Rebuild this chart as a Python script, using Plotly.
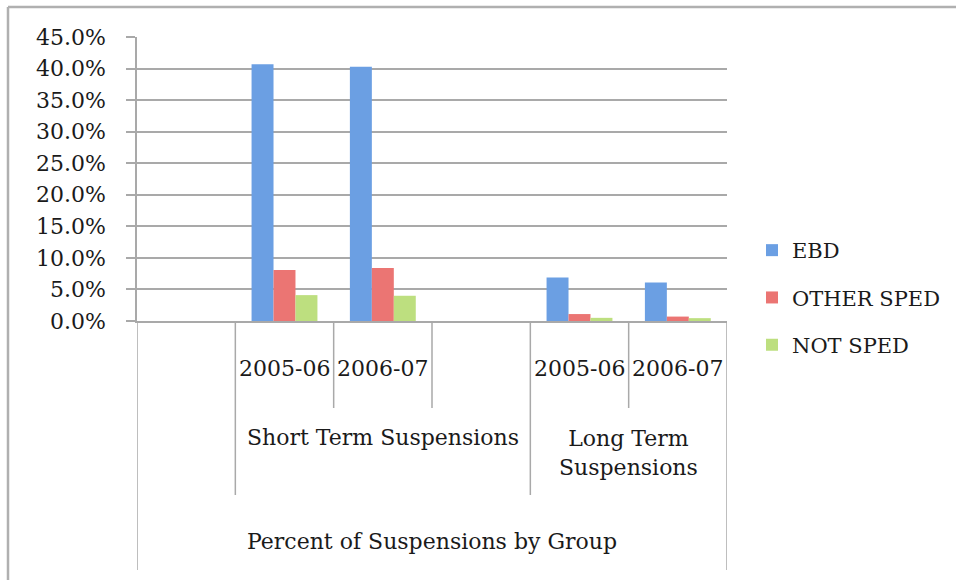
import plotly.graph_objects as go

# Category slots along the x axis (outer -> middle -> inner level)
outer_label = "Percent of Suspensions by Group"
slot_groups = ["", "Short Term Suspensions", "Short Term Suspensions", "Short Term Suspensions",
               "Long Term Suspensions", "Long Term Suspensions"]
slot_periods = ["", "2005-06", "2006-07", "", "2005-06", "2006-07"]

# Share of suspensions by student group (fractions)
series_names = ["EBD", "OTHER SPED", "NOT SPED"]
ebd = [None, 0.407, 0.403, None, 0.069, 0.061]
other_sped = [None, 0.081, 0.084, None, 0.011, 0.007]
not_sped = [None, 0.041, 0.040, None, 0.005, 0.0045]

y_ticks = [0.0, 0.05, 0.10, 0.15, 0.20, 0.25, 0.30, 0.35, 0.40, 0.45]

colors = ["#6b9fe3", "#eb7573", "#bddf7f"]
FONT = "DejaVu Serif"
TXT = "#1a1a1a"
GRID = "#a9a9a9"

W, H = 956, 580
def px(v):  # horizontal pixel -> paper
    return v / W
def py(v):  # vertical pixel (from top) -> paper
    return 1 - v / H

x_slots = list(range(len(slot_periods)))

fig = go.Figure()
for name, vals, c in zip(series_names, [ebd, other_sped, not_sped], colors):
    fig.add_trace(go.Bar(
        x=x_slots, y=vals, name=name, legendgroup=name,
        marker=dict(color=c, line=dict(width=0)),
        hoverinfo="skip",
    ))

shapes = []
annotations = []

# inner level labels (periods)
for i, p in enumerate(slot_periods):
    if p:
        annotations.append(dict(x=i, y=py(368), xref="x", yref="paper", text=p,
                                showarrow=False, font=dict(family=FONT, size=22, color=TXT),
                                xanchor="center", yanchor="middle"))

# middle level labels: contiguous runs of the same group
runs = []
start = 0
for i in range(1, len(slot_groups) + 1):
    if i == len(slot_groups) or slot_groups[i] != slot_groups[start]:
        runs.append((slot_groups[start], start, i - 1))
        start = i
for g, a, b in runs:
    if not g:
        continue
    text = g if (b - a) >= 2 else g.replace(" Suspensions", "<br>Suspensions")
    annotations.append(dict(x=(a + b) / 2, y=py(453) if "<br>" in text else py(437),
                            xref="x", yref="paper", text=text, showarrow=False,
                            font=dict(family=FONT, size=22, color=TXT),
                            xanchor="center", yanchor="middle"))

# outer level label
annotations.append(dict(x=(len(slot_groups) - 1) / 2, y=py(541), xref="x", yref="paper",
                        text=outer_label, showarrow=False,
                        font=dict(family=FONT, size=22, color=TXT),
                        xanchor="center", yanchor="middle"))

# category divider lines below the axis
n = len(slot_periods)
for k in range(n + 1):
    xb = k - 0.5
    if k == 0 or k == n:
        bottom = 570
    elif slot_groups[k] != slot_groups[k - 1]:
        bottom = 495
    else:
        bottom = 408
    shapes.append(dict(type="line", xref="x", yref="paper", x0=xb, x1=xb,
                       y0=py(321), y1=py(bottom), line=dict(color=GRID, width=1.5)))

# frame around the chart area
shapes.append(dict(type="line", xref="paper", yref="paper", x0=px(8), x1=1.0,
                   y0=py(7), y1=py(7), line=dict(color="#b0b0b0", width=2.5)))
shapes.append(dict(type="line", xref="paper", yref="paper", x0=px(8), x1=px(8),
                   y0=py(7), y1=0.0, line=dict(color="#b0b0b0", width=2.5)))

fig.update_layout(
    width=W, height=H,
    margin=dict(l=0, r=0, t=0, b=0),
    paper_bgcolor="white", plot_bgcolor="white",
    barmode="group", bargap=0.33, bargroupgap=0.0,
    showlegend=True,
    legend=dict(x=px(752), y=py(230), xanchor="left", yanchor="top",
                font=dict(family=FONT, size=21, color=TXT),
                traceorder="grouped", tracegroupgap=17,
                bgcolor="rgba(0,0,0,0)", itemclick=False, itemdoubleclick=False),
    xaxis=dict(domain=[px(137), px(727)], range=[-0.5, n - 0.5],
               showgrid=False, zeroline=False, showticklabels=False, ticks="",
               showline=True, linecolor=GRID, linewidth=1.5, fixedrange=True,
               automargin=False),
    yaxis=dict(domain=[py(321), py(37)], range=[0, 0.45],
               tickvals=y_ticks, tickformat=".1%",
               ticks="outside", ticklen=9, tickcolor=GRID, tickwidth=1.5,
               ticklabelstandoff=16,
               showline=True, linecolor=GRID, linewidth=1.5,
               showgrid=True, gridcolor=GRID, gridwidth=1.5, zeroline=False,
               tickfont=dict(family=FONT, size=22, color=TXT),
               fixedrange=True, automargin=False),
    shapes=shapes,
    annotations=annotations,
)

fig.write_html("out.html")
